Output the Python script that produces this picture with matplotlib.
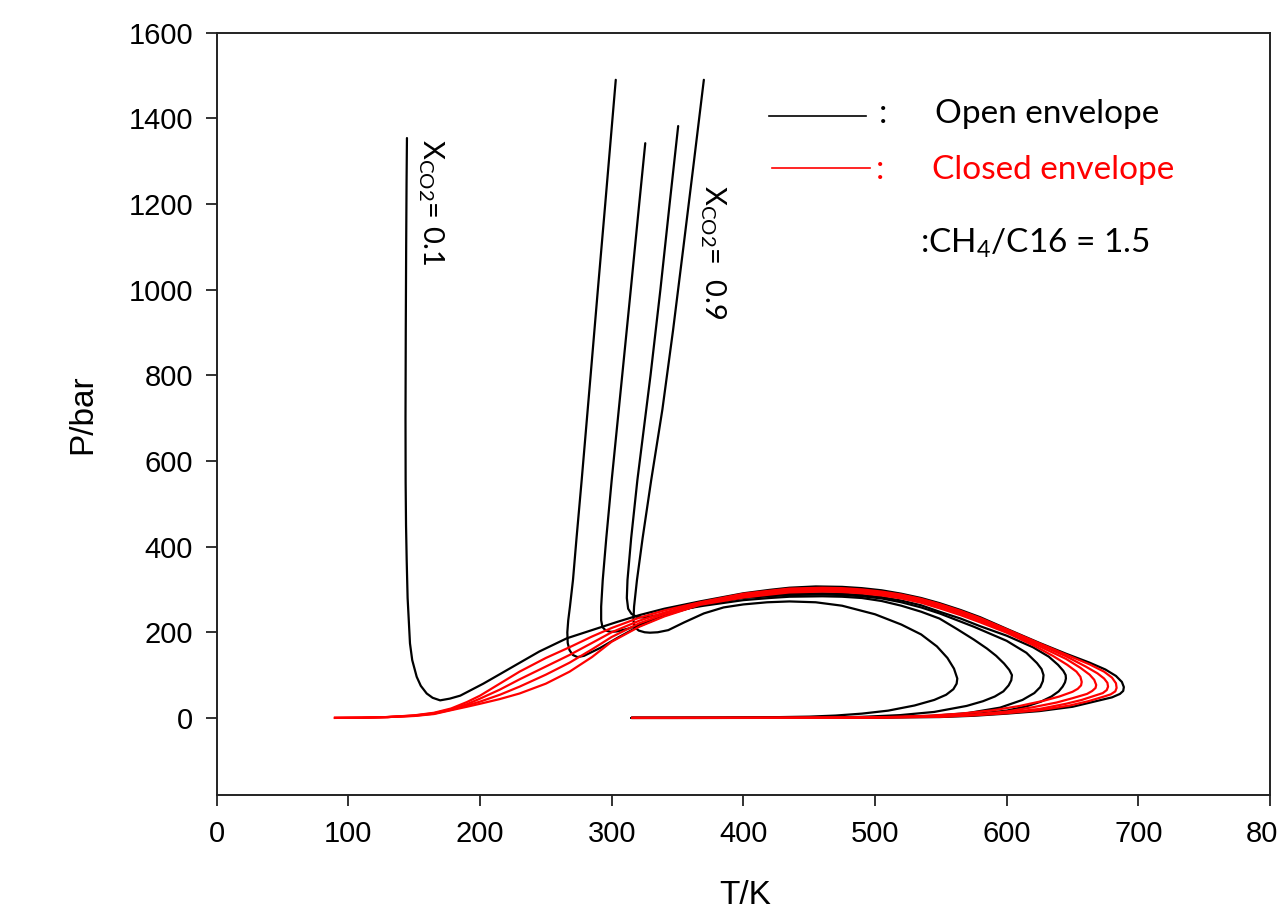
import matplotlib
matplotlib.use("Agg")
import matplotlib.pyplot as plt

plt.rcParams['font.family'] = ['Liberation Sans', 'DejaVu Sans']
plt.rcParams['mathtext.fontset'] = 'custom'
plt.rcParams['mathtext.rm'] = 'Lato'
plt.rcParams['mathtext.it'] = 'Lato:italic'
plt.rcParams['mathtext.bf'] = 'Lato:bold'

# ---------------- data (T in K, P in bar) ----------------
# X_CO2 = 0.1  (open envelope, black)
T01 = [144.5, 144.2, 143.9, 143.6, 143.4, 143.5, 143.8, 144.3, 145.0, 146.8, 148.5, 151.9, 155.0, 159.5, 164.0,
       169.7, 177.0, 185.0, 202.5, 215, 228, 245, 266, 285, 304, 321, 340, 367, 400, 420, 435, 455, 475, 490,
       505, 520, 535, 549, 565, 580, 600, 625, 645, 663, 675, 683, 687.5, 689, 688.5, 686, 680, 665, 650, 625,
       600, 575, 549, 500, 450, 400, 315]
P01 = [1354, 1250, 1100, 905, 700, 550, 450, 368, 280, 174, 135, 96, 75, 57, 47,
       41, 45, 52, 80, 102, 125, 155, 186, 205, 224, 240, 255, 272, 291, 299, 304, 307, 306, 303,
       298, 290, 280, 268, 252, 235, 208, 175, 150, 129, 113, 98, 84, 72, 63, 56, 48, 37, 26, 16,
       10, 5, 2, 0.8, 0.3, 0.1, 0]

# X_CO2 = 0.2 .. 0.5 (closed envelopes, red)
T02 = [89, 110, 130, 150, 165, 178, 190, 200, 215, 230, 250, 268, 285, 300, 321, 340, 367, 400, 420, 435, 460,
       475, 490, 505, 520, 535, 549, 565, 580, 600, 625, 645, 663, 674, 680, 683, 683.5, 682.5, 679, 674, 662,
       648, 625, 600, 575, 549, 500, 450, 400, 350, 315]
P02 = [0, 0.5, 2, 6, 12, 22, 37, 52, 80, 108, 140, 165, 190, 210, 234, 251, 270, 290, 297, 302, 304,
       303, 300, 295, 288, 278, 266, 250, 233, 207, 174, 148, 125, 108, 94, 81, 70, 62, 55, 50, 39,
       29, 18, 11, 6, 2.5, 0.8, 0.3, 0.1, 0, 0]

T03 = [89, 110, 130, 150, 165, 178, 190, 200, 215, 230, 250, 268, 285, 300, 321, 340, 367, 400, 420, 435, 460,
       475, 490, 505, 520, 535, 549, 565, 580, 600, 625, 645, 660, 669, 674, 676.5, 677, 676, 673, 668, 657,
       645, 625, 600, 575, 549, 500, 450, 400, 350, 315]
P03 = [0, 0.5, 2, 5.5, 11, 20, 32, 45, 66, 90, 120, 147, 175, 200, 227, 246, 268, 287, 294, 299, 301,
       300, 297, 292, 285, 275, 263, 247, 230, 205, 171, 144, 120, 104, 92, 82, 73, 65, 58, 53, 42,
       33, 21, 12.5, 7, 3, 1, 0.4, 0.1, 0, 0]

T04 = [89, 110, 130, 150, 165, 178, 190, 200, 215, 230, 250, 268, 285, 300, 321, 340, 367, 400, 420, 435, 460,
       475, 490, 505, 520, 535, 549, 565, 580, 600, 625, 645, 656, 663, 666.5, 668, 667.5, 665, 661, 650,
       638, 620, 600, 575, 549, 500, 450, 400, 350, 315]
P04 = [0, 0.5, 2, 5, 10, 19, 29, 38, 54, 73, 101, 129, 160, 189, 221, 242, 266, 284, 291, 296, 298,
       297, 294, 289, 282, 272, 260, 244, 227, 202, 167, 138, 117, 101, 89, 77, 70, 63, 56, 46,
       36, 25, 15, 8, 3.5, 1.2, 0.4, 0.1, 0, 0]

T05 = [89, 110, 130, 150, 165, 178, 190, 200, 215, 230, 250, 268, 285, 300, 321, 340, 367, 400, 420, 435, 460,
       475, 490, 505, 520, 535, 549, 565, 580, 600, 620, 635, 646, 653, 656, 657, 656.5, 654, 650, 640, 628,
       610, 590, 565, 540, 510, 470, 420, 370, 315]
P05 = [0, 0.5, 2, 4.5, 9, 18, 26, 33, 44, 57, 80, 108, 142, 178, 213, 237, 264, 281, 288, 293, 295,
       294, 291, 286, 279, 269, 256, 240, 223, 199, 170, 145, 124, 108, 96, 84, 76, 68, 61, 50, 40,
       28, 18, 10, 5, 2, 0.8, 0.2, 0, 0]

# X_CO2 = 0.6 .. 0.9 (open envelopes, black)
T06 = [303.1, 295.1, 289.5, 284, 277.2, 273.3, 270.6, 268.3, 267, 266.3, 266.6, 268, 270.5, 274, 279, 291, 305,
       320, 340, 367, 400, 420, 435, 460, 475, 490, 505, 520, 535, 549, 565, 580, 600, 620, 632, 639, 643,
       644.8, 645, 644.3, 642.5, 639.5, 634, 626, 615, 600, 570, 530, 480, 420, 380, 315]
P06 = [1490, 1200, 1000, 800, 555, 420, 322, 260, 228, 200, 175, 158, 147, 142, 145, 163, 188,
       213, 239, 264, 282, 287, 290, 291, 290, 287, 282, 274, 263, 248, 232, 214, 192, 165, 143, 124, 110,
       100, 92, 83, 73, 62, 50, 38, 27, 17, 7, 2.5, 0.5, 0.1, 0, 0]

T07 = [325.5, 320.9, 314.5, 308, 300, 295.9, 293.2, 292, 292, 293, 295.5, 299, 304, 312, 325, 345, 370, 400,
       420, 435, 460, 475, 490, 505, 520, 535, 549, 575, 600, 615, 623, 626.5, 628, 627.5, 625.5, 621, 612,
       595, 570, 544, 500, 450, 400, 315]
P07 = [1342, 1200, 1000, 800, 555, 420, 322, 260, 228, 212, 204, 201, 202, 208, 222, 245, 265, 280,
       284, 287, 288, 287, 284, 279, 270, 258, 244, 213, 180, 152, 128, 114, 100, 86, 72, 58, 42,
       24, 11, 5, 1, 0.2, 0, 0]

T08 = [350.5, 344, 337, 329.5, 319.5, 314.8, 312, 311.5, 312.5, 315, 319, 325, 335, 350, 370, 400, 420, 435,
       460, 475, 490, 505, 520, 535, 549, 562, 575, 585, 592, 598, 602, 604, 603.5, 601.5, 597.5, 591, 582,
       569.6, 545, 519, 490, 468, 420, 380, 315]
P08 = [1382, 1200, 1000, 800, 555, 420, 322, 280, 255, 243, 236, 234, 240, 252, 262, 275, 280, 283,
       284, 283, 280, 273, 262, 248, 232, 208, 183, 162, 145, 127, 112, 100, 88, 76, 62, 50, 39,
       28, 14, 6.5, 2.5, 1, 0.2, 0, 0]

T09 = [370, 362.5, 354.5, 346.6, 338.5, 330, 323.5, 319.2, 317, 316.5, 317.5, 320.5, 325, 329, 335, 343, 355,
       370, 385, 400, 418, 435, 455, 475, 500, 520, 535, 547, 555, 560, 562.5, 562, 559.5, 554, 545, 530,
       510, 490, 470, 450, 420, 380, 340, 315]
P09 = [1490, 1300, 1100, 905, 720, 555, 420, 322, 260, 228, 212, 204, 200, 199, 200, 205, 223,
       244, 258, 265, 270, 272, 270, 262, 242, 218, 195, 167, 140, 115, 92, 80, 67, 54, 42, 29,
       17, 10, 5.5, 3, 1.5, 0.5, 0.1, 0]

open_T = [T01, T06, T07, T08, T09]
open_P = [P01, P06, P07, P08, P09]
closed_T = [T02, T03, T04, T05]
closed_P = [P02, P03, P04, P05]

x_ticks = [0, 100, 200, 300, 400, 500, 600, 700, 800]
y_ticks = [0, 200, 400, 600, 800, 1000, 1200, 1400, 1600]

# ---------------- figure ----------------
fig = plt.figure(figsize=(12.77, 9.11), dpi=100)
ax = fig.add_axes([216.7 / 1277, (911 - 795) / 911, (1270 - 216.7) / 1277, (795 - 32.7) / 911])

for T, P in zip(open_T, open_P):
    ax.plot(T, P, color='black', lw=1.6, solid_joinstyle='round', solid_capstyle='round', zorder=2)
for T, P in zip(closed_T, closed_P):
    ax.plot(T, P, color='#ff0000', lw=1.6, solid_joinstyle='round', solid_capstyle='butt', zorder=3)

ax.set_xlim(0, 800)
ax.set_ylim(-180, 1600)
ax.set_xticks(x_ticks)
ax.set_yticks(y_ticks)
ax.tick_params(axis='both', direction='out', length=8, width=1.3, labelsize=21, color='#222222')
ax.tick_params(axis='x', pad=10)
ax.tick_params(axis='y', pad=9)
for s in ax.spines.values():
    s.set_linewidth(1.4)
    s.set_color('#222222')

ax.set_xlabel('T/K', fontsize=24)
ax.set_ylabel('P/bar', fontsize=24)
ax.xaxis.set_label_coords(0.5016, -0.111)
ax.yaxis.set_label_coords(-0.112, 0.5)

# legend-like annotations
lf = 'Lato'
ax.plot([0.5244, 0.6164], [0.8907, 0.8907], transform=ax.transAxes, color='black', lw=1.2, clip_on=False)
ax.text(0.6327, 0.8811, ':', transform=ax.transAxes, fontsize=24, family=lf, ha='center', va='baseline')
ax.text(0.6819, 0.8811, 'Open envelope', transform=ax.transAxes, fontsize=24, family=lf, ha='left', va='baseline')
ax.plot([0.5273, 0.6202], [0.8225, 0.8225], transform=ax.transAxes, color='#ff0000', lw=1.2, clip_on=False)
ax.text(0.6297, 0.8085, ':', transform=ax.transAxes, fontsize=24, family=lf, ha='center', va='baseline',
        color='#ff0000')
ax.text(0.6791, 0.8085, 'Closed envelope', transform=ax.transAxes, fontsize=24, family=lf, ha='left',
        va='baseline', color='#ff0000')
ax.text(0.6677, 0.711, r':CH$_4$/C16 = 1.5', transform=ax.transAxes, fontsize=24, family=lf, ha='left',
        va='baseline')

ax.text(0.2035, 0.7779, r'X$_{\mathrm{CO2}}$= 0.1', transform=ax.transAxes, fontsize=21, family=lf,
        rotation=270, ha='center', va='center')
ax.text(0.4712, 0.7123, r'X$_{\mathrm{CO2}}$=  0.9', transform=ax.transAxes, fontsize=21, family=lf,
        rotation=270, ha='center', va='center')

fig.savefig('out.png', dpi=100)
